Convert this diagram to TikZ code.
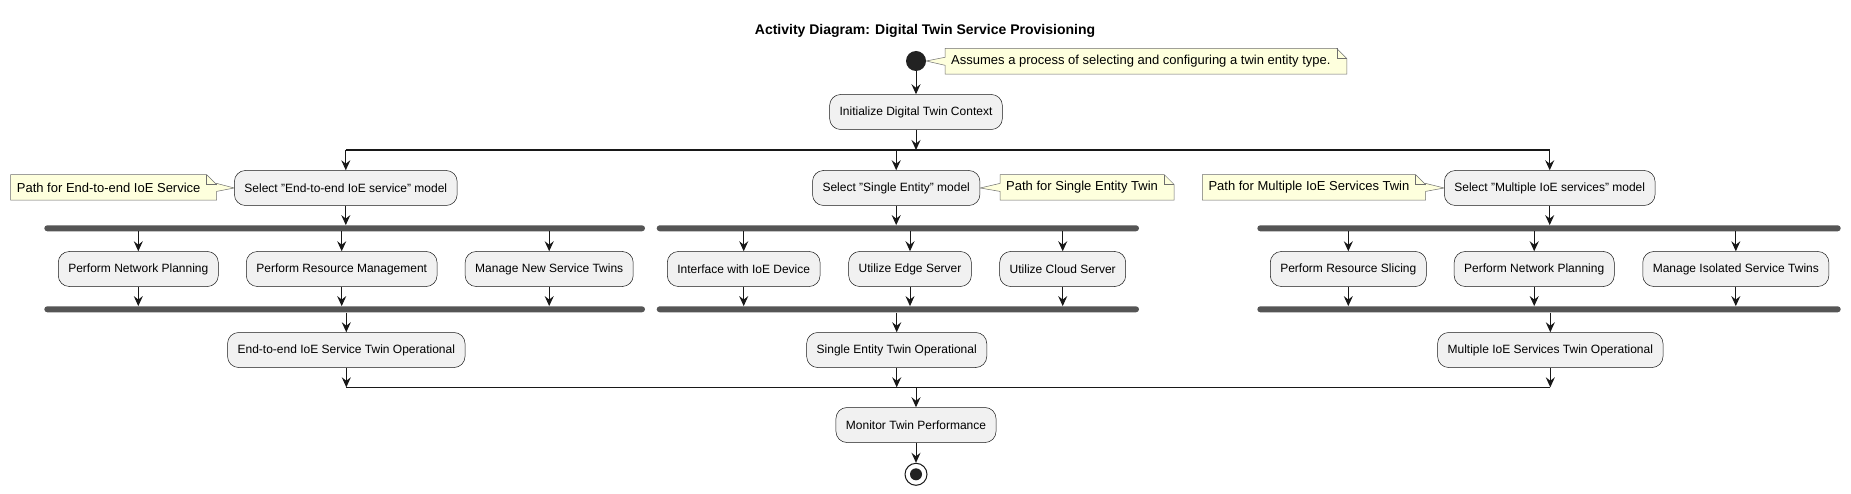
\documentclass[tikz,border=0pt]{standalone}
\usepackage{fontspec}
\setmainfont{Liberation Sans}
\usetikzlibrary{arrows.meta,backgrounds}

\definecolor{actfill}{HTML}{F1F1F1}
\definecolor{actline}{HTML}{181818}
\definecolor{notefill}{HTML}{FEFFDD}
\definecolor{noteedge}{HTML}{6E6E6E}
\definecolor{barfill}{HTML}{555555}
\definecolor{dotfill}{HTML}{222222}

\tikzset{
  act/.style={draw=actline, line width=0.5pt, fill=actfill, rounded corners=11pt,
    minimum height=35pt, inner xsep=10pt, inner ysep=0pt, font=\fontsize{12}{14}\selectfont},
  notetext/.style={anchor=west, inner xsep=6pt, inner ysep=0pt, minimum height=25.3pt,
    font=\fontsize{13}{15}\selectfont},
  notebox/.style={draw=noteedge, line width=0.5pt, fill=notefill},
  bar/.style={fill=barfill, rounded corners=3pt, minimum height=6pt, inner sep=0pt},
  flow/.style={draw=actline, line width=1pt, -{Stealth[length=10pt,width=9pt,inset=3.5pt]}},
  link/.style={draw=actline, line width=1.2pt},
}

% note with its pointer on the left side
\newcommand{\noteleft}[2]{%
  \filldraw[notebox] (#1.north west) -- (#1.north east) -- ([xshift=10pt,yshift=-10pt]#1.north east)
    -- ([xshift=10pt]#1.south east) -- (#1.south west) -- ([yshift=-4pt]#1.west) -- (#2)
    -- ([yshift=4pt]#1.west) -- cycle;
  \draw[notebox, fill=none] (#1.north east) -- ([yshift=-10pt]#1.north east) -- ([xshift=10pt,yshift=-10pt]#1.north east);}
% note with its pointer on the right side
\newcommand{\noteright}[2]{%
  \filldraw[notebox] (#1.north west) -- (#1.north east) -- ([xshift=10pt,yshift=-10pt]#1.north east)
    -- ([xshift=10pt,yshift=4pt]#1.east) -- (#2) -- ([xshift=10pt,yshift=-4pt]#1.east)
    -- ([xshift=10pt]#1.south east) -- (#1.south west) -- cycle;
  \draw[notebox, fill=none] (#1.north east) -- ([yshift=-10pt]#1.north east) -- ([xshift=10pt,yshift=-10pt]#1.north east);}

\begin{document}
\begin{tikzpicture}[x=1pt, y=-1pt]

    \useasboundingbox (0,0) rectangle (1851,494);

    % Title
    \node[font=\fontsize{14}{16}\selectfont\bfseries] (title) at (925,31) {Activity Diagram: Digital Twin Service Provisioning};

    % Start and context
    \node[circle, fill=dotfill, minimum size=20pt, inner sep=0pt] (start) at (916,61) {};
    \node[notetext] (note0) at (945,61.3) {Assumes a process of selecting and configuring a twin entity type.};
    \node[act] (init) at (916,112) {Initialize Digital Twin Context};

    % Split
    \coordinate (splitL) at (345.8,150);
    \coordinate (splitR) at (1549.7,150);

    % Model selection
    \node[act] (selE) at (345.8,188) {Select "End-to-end IoE service" model};
    \node[act] (selS) at (896.2,188) {Select "Single Entity" model};
    \node[act] (selM) at (1549.7,188) {Select "Multiple IoE services" model};
    \node[notetext] (noteE) at (10.7,187.4) {Path for End-to-end IoE Service};
    \node[notetext] (noteS) at (1000,187.4) {Path for Single Entity Twin};
    \node[notetext] (noteM) at (1202.3,187.4) {Path for Multiple IoE Services Twin};

    % Fork bars
    \node[bar, minimum width=600.7pt] (forkE) at (344.65,228.3) {};
    \node[bar, minimum width=482.3pt] (forkS) at (897.85,228.3) {};
    \node[bar, minimum width=583.4pt] (forkM) at (1549,228.3) {};
    \node[bar, minimum width=600.7pt] (joinE) at (344.65,309.3) {};
    \node[bar, minimum width=482.3pt] (joinS) at (897.85,309.3) {};
    \node[bar, minimum width=583.4pt] (joinM) at (1549,309.3) {};

    % Parallel tasks
    \node[act] (planE) at (138.3,269) {Perform Network Planning};
    \node[act] (resE) at (341.7,269) {Perform Resource Management};
    \node[act] (twinE) at (549.2,269) {Manage New Service Twins};
    \node[act] (devS) at (743.7,269) {Interface with IoE Device};
    \node[act] (edgeS) at (910,269) {Utilize Edge Server};
    \node[act] (cloudS) at (1062.7,269) {Utilize Cloud Server};
    \node[act] (sliceM) at (1348.3,269) {Perform Resource Slicing};
    \node[act] (planM) at (1534.2,269) {Perform Network Planning};
    \node[act] (twinM) at (1735.8,269) {Manage Isolated Service Twins};

    % Operational
    \node[act] (opE) at (346.3,350) {End-to-end IoE Service Twin Operational};
    \node[act] (opS) at (896.7,350) {Single Entity Twin Operational};
    \node[act] (opM) at (1550.3,350) {Multiple IoE Services Twin Operational};
    \coordinate (mergeL) at (346.3,387.3);
    \coordinate (mergeR) at (1550.3,387.3);

    % Monitor and stop
    \node[act] (monitor) at (916,425) {Monitor Twin Performance};
    \node[circle, draw=actline, line width=1pt, fill=white, minimum size=22pt, inner sep=0pt] (stop) at (916,474.3) {};
    \fill[dotfill] (stop) circle (6pt);

    % Notes
    \begin{scope}[on background layer]
        \fill[white] (0,0) rectangle (1851,494);
        \noteleft{note0}{start.east}
        \noteright{noteE}{selE.west}
        \noteleft{noteS}{selS.east}
        \noteright{noteM}{selM.west}
    \end{scope}

    % Flow
    \draw[flow] (start) -- (init);
    \draw[link] (splitL) -- (splitR);
    \draw[flow] (init.south) -- (init.south |- splitL);
    \draw[flow] (selE.north |- splitL) -- (selE.north);
    \draw[flow] (selS.north |- splitL) -- (selS.north);
    \draw[flow] (selM.north |- splitL) -- (selM.north);

    \draw[flow] (selE.south) -- (selE.south |- forkE.north);
    \draw[flow] (selS.south) -- (selS.south |- forkS.north);
    \draw[flow] (selM.south) -- (selM.south |- forkM.north);

    \draw[flow] (planE.north |- forkE.south) -- (planE.north);
    \draw[flow] (resE.north |- forkE.south) -- (resE.north);
    \draw[flow] (twinE.north |- forkE.south) -- (twinE.north);
    \draw[flow] (devS.north |- forkS.south) -- (devS.north);
    \draw[flow] (edgeS.north |- forkS.south) -- (edgeS.north);
    \draw[flow] (cloudS.north |- forkS.south) -- (cloudS.north);
    \draw[flow] (sliceM.north |- forkM.south) -- (sliceM.north);
    \draw[flow] (planM.north |- forkM.south) -- (planM.north);
    \draw[flow] (twinM.north |- forkM.south) -- (twinM.north);

    \draw[flow] (planE.south) -- (planE.south |- joinE.north);
    \draw[flow] (resE.south) -- (resE.south |- joinE.north);
    \draw[flow] (twinE.south) -- (twinE.south |- joinE.north);
    \draw[flow] (devS.south) -- (devS.south |- joinS.north);
    \draw[flow] (edgeS.south) -- (edgeS.south |- joinS.north);
    \draw[flow] (cloudS.south) -- (cloudS.south |- joinS.north);
    \draw[flow] (sliceM.south) -- (sliceM.south |- joinM.north);
    \draw[flow] (planM.south) -- (planM.south |- joinM.north);
    \draw[flow] (twinM.south) -- (twinM.south |- joinM.north);

    \draw[flow] (opE.north |- joinE.south) -- (opE.north);
    \draw[flow] (opS.north |- joinS.south) -- (opS.north);
    \draw[flow] (opM.north |- joinM.south) -- (opM.north);

    % Merge
    \draw[link] (mergeL) -- (mergeR);
    \draw[flow] (opE.south) -- (mergeL);
    \draw[flow] (opS.south) -- (opS.south |- mergeL);
    \draw[flow] (opM.south) -- (mergeR);
    \draw[flow] (monitor.north |- mergeL) -- (monitor.north);
    \draw[flow] (monitor) -- (stop);

\end{tikzpicture}
\end{document}
